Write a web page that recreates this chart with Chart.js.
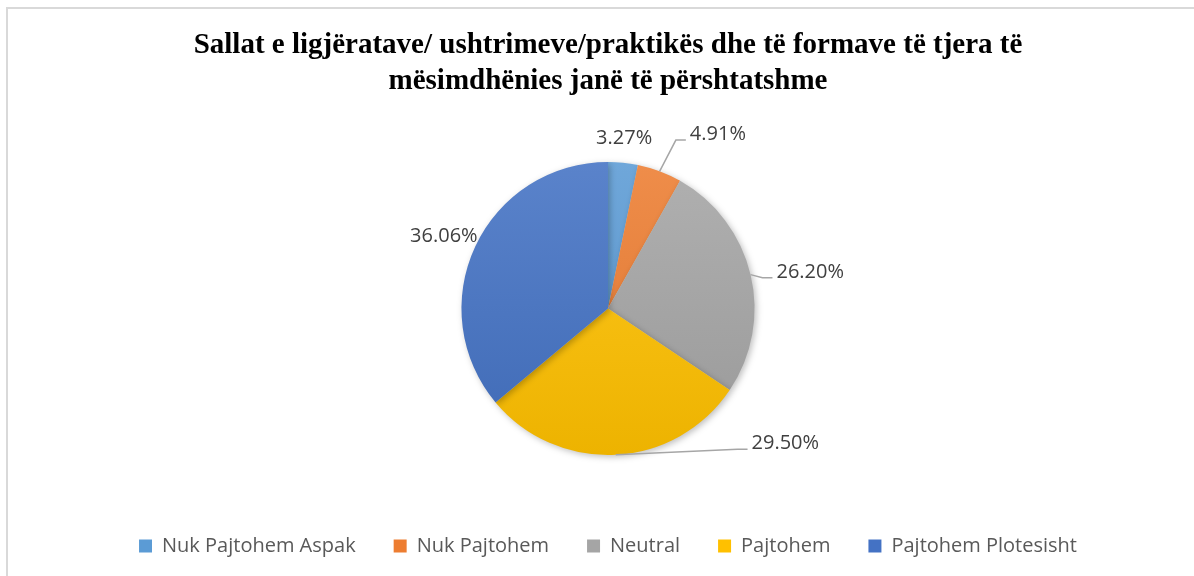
<!DOCTYPE html>
<html lang="sq">
<head>
    <meta charset="UTF-8">
    <title>Sallat e ligjëratave</title>
    <script src="https://cdn.jsdelivr.net/npm/chart.js"></script>
    <style>
        body {
            margin: 0;
            padding: 0;
            background: #ffffff;
            overflow: hidden;
        }
        #wrap {
            position: relative;
            width: 1194px;
            height: 576px;
        }
        #frame {
            position: absolute;
            left: 6px;
            top: 7px;
            width: 1300px;
            height: 700px;
            border: 2px solid #d9d9d9;
            pointer-events: none;
        }
        canvas {
            position: absolute;
            left: 0;
            top: 0;
        }
    </style>
</head>
<body>
<div id="wrap">
    <div id="frame"></div>
    <canvas id="pie" width="1194" height="576"></canvas>
</div>

<script>
    // te dhenat
    const titleLines = [
        'Sallat e ligjëratave/ ushtrimeve/praktikës dhe të formave të tjera të',
        'mësimdhënies janë të përshtatshme'
    ];
    const categories = ['Nuk Pajtohem Aspak', 'Nuk Pajtohem', 'Neutral', 'Pajtohem', 'Pajtohem Plotesisht'];
    const percentages = [3.27, 4.91, 26.20, 29.50, 36.06];
    const baseColors = ['#5b9bd5', '#ed7d31', '#a5a5a5', '#ffc000', '#4472c4'];

    // pozicioni i etiketave (ne njesi te rrezes, nga qendra) dhe vijat udhezuese
    const labelOffsets = [[0.11, -1.16], [0.75, -1.19], [1.38, -0.25], [1.21, 0.92], [-1.12, -0.49]];
    const leaderLines = [false, true, true, true, false];

    function shade(hex, amt) {
        const n = parseInt(hex.slice(1), 16);
        let r = (n >> 16) & 255, g = (n >> 8) & 255, b = n & 255;
        if (amt > 0) {
            r = Math.round(r + (255 - r) * amt);
            g = Math.round(g + (255 - g) * amt);
            b = Math.round(b + (255 - b) * amt);
        } else {
            r = Math.round(r * (1 + amt));
            g = Math.round(g * (1 + amt));
            b = Math.round(b * (1 + amt));
        }
        return 'rgb(' + r + ',' + g + ',' + b + ')';
    }

    function sliceFill(ctx) {
        const base = baseColors[ctx.dataIndex];
        const area = ctx.chart.chartArea;
        if (!area) return base;
        const cx = (area.left + area.right) / 2;
        const cy = (area.top + area.bottom) / 2;
        const r = Math.min(area.right - area.left, area.bottom - area.top) / 2;
        const g = ctx.chart.ctx.createLinearGradient(cx, cy - r, cx, cy + r);
        g.addColorStop(0, shade(base, 0.12));
        g.addColorStop(1, shade(base, -0.07));
        return g;
    }

    // shadow i lehte nen pite
    const pieShadow = {
        id: 'pieShadow',
        beforeDatasetDraw(chart) {
            const c = chart.ctx;
            c.save();
            c.shadowColor = 'rgba(0,0,0,0.25)';
            c.shadowBlur = 6;
            c.shadowOffsetX = 2;
            c.shadowOffsetY = 2;
        },
        afterDatasetDraw(chart) {
            chart.ctx.restore();
        }
    };

    // etiketat e perqindjeve
    const pctLabels = {
        id: 'pctLabels',
        afterDatasetsDraw(chart) {
            const c = chart.ctx;
            const meta = chart.getDatasetMeta(0);
            c.save();
            c.font = '20px "Open Sans"';
            c.fillStyle = '#404040';
            c.textBaseline = 'middle';
            c.textAlign = 'left';
            meta.data.forEach((arc, i) => {
                const r = arc.outerRadius;
                const mid = (arc.startAngle + arc.endAngle) / 2;
                const text = percentages[i].toFixed(2) + '%';
                const w = c.measureText(text).width;
                const tx = arc.x + labelOffsets[i][0] * r;
                const ty = arc.y + labelOffsets[i][1] * r;
                const left = tx - w / 2;
                if (leaderLines[i]) {
                    const ex = arc.x + Math.cos(mid) * r;
                    const ey = arc.y + Math.sin(mid) * r;
                    const endX = left - 4;
                    const endY = ty + 6;
                    c.beginPath();
                    c.strokeStyle = '#a6a6a6';
                    c.lineWidth = 1.5;
                    c.moveTo(ex, ey);
                    c.lineTo(endX - 10, endY);
                    c.lineTo(endX, endY);
                    c.stroke();
                }
                c.fillText(text, left, ty);
            });
            c.restore();
        }
    };

    new Chart(document.getElementById('pie'), {
        type: 'pie',
        data: {
            labels: categories,
            datasets: [{
                data: percentages,
                backgroundColor: sliceFill,
                borderWidth: 0
            }]
        },
        options: {
            responsive: false,
            animation: false,
            layout: {
                padding: { top: 10, bottom: 10, left: 22, right: 0 }
            },
            plugins: {
                title: {
                    display: true,
                    text: titleLines,
                    color: '#000000',
                    font: { family: '"Liberation Serif"', size: 29, weight: 'bold', lineHeight: 1.24 },
                    padding: { top: 18, bottom: 62 }
                },
                legend: {
                    position: 'bottom',
                    title: {
                        display: true,
                        text: ' ',
                        font: { size: 1, lineHeight: 1 },
                        padding: { top: 42, bottom: 0 }
                    },
                    labels: {
                        boxWidth: 13,
                        boxHeight: 13,
                        padding: 38,
                        color: '#595959',
                        font: { family: '"Open Sans"', size: 20 },
                        generateLabels(chart) {
                            return categories.map((name, i) => ({
                                text: name,
                                fillStyle: baseColors[i],
                                strokeStyle: baseColors[i],
                                lineWidth: 0,
                                fontColor: '#595959',
                                index: i,
                                hidden: false
                            }));
                        }
                    }
                },
                tooltip: { enabled: false }
            }
        },
        plugins: [pieShadow, pctLabels]
    });
</script>
</body>
</html>
